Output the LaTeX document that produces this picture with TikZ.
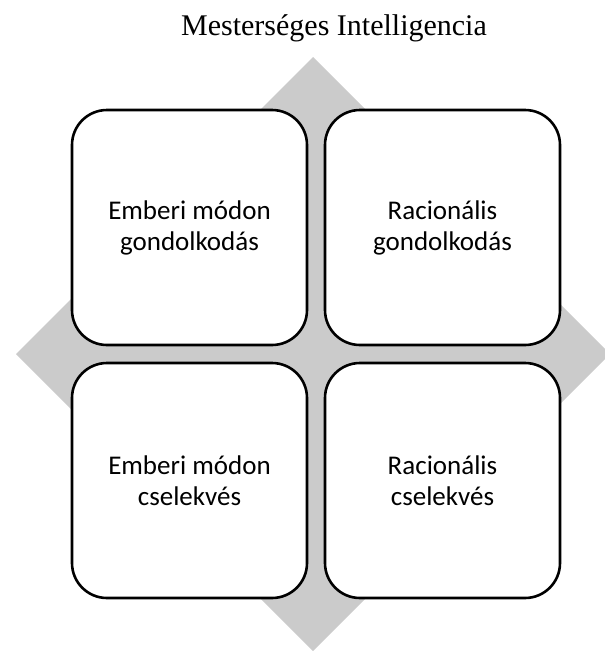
\documentclass[tikz,border=0pt]{standalone}
\usepackage{fontspec}
\setmainfont{Liberation Serif}
\newfontfamily\boxfont{Carlito}
\usetikzlibrary{positioning}
\definecolor{diamondgray}{RGB}{203,203,203}
\begin{document}
\begin{tikzpicture}[x=1pt, y=-1pt,
    quad/.style={draw, line width=2.6pt, rounded corners=35pt, fill=white,
      minimum size=235pt, outer sep=0pt, align=center,
      font=\boxfont\fontsize{27}{31}\selectfont},
    node distance=18pt]
    \useasboundingbox (0, 0) rectangle (605, 651);

    \node[font=\fontsize{30}{34}\selectfont] at (334, 28) (title) {Mesterséges Intelligencia};

    \fill[diamondgray] (313, 57) -- (610, 354) -- (313, 651) -- (16, 354) -- cycle;

    \node[quad] at (189.5, 227.5) (tl) {Emberi módon\\gondolkodás};
    \node[quad, right=of tl] (tr) {Racionális\\gondolkodás};
    \node[quad, below=of tl] (bl) {Emberi módon\\cselekvés};
    \node[quad, right=of bl] (br) {Racionális\\cselekvés};

  \end{tikzpicture}
\end{document}
